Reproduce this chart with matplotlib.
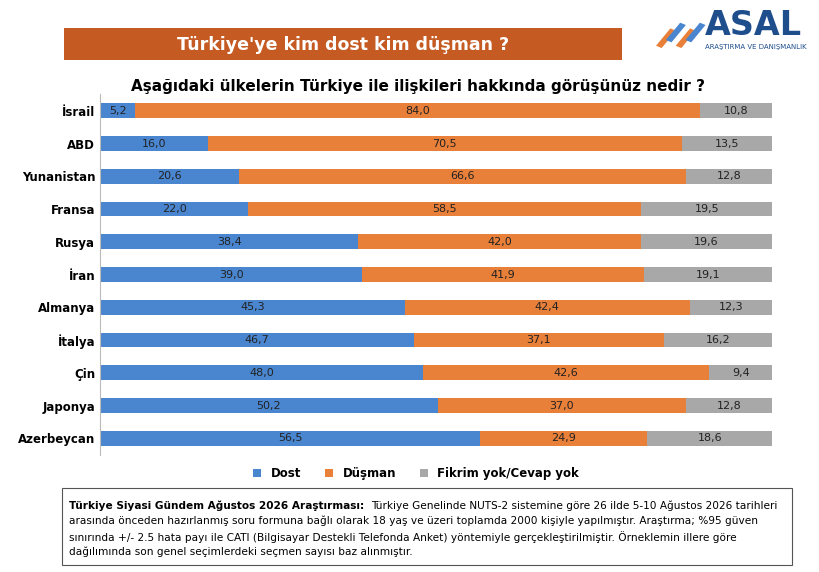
import matplotlib
matplotlib.use("Agg")
import matplotlib.pyplot as plt
from matplotlib.patches import Rectangle

countries = ["İsrail","ABD","Yunanistan","Fransa","Rusya","İran","Almanya","İtalya","Çin","Japonya","Azerbeycan"]
dost = [5.2,16.0,20.6,22.0,38.4,39.0,45.3,46.7,48.0,50.2,56.5]
dusman = [84.0,70.5,66.6,58.5,42.0,41.9,42.4,37.1,42.6,37.0,24.9]
fikrim = [10.8,13.5,12.8,19.5,19.6,19.1,12.3,16.2,9.4,12.8,18.6]
series_names = ["Dost","Düşman","Fikrim yok/Cevap yok"]
colors = ["#4a86d0","#e8803a","#a8a8a8"]

fig = plt.figure(figsize=(8.2,5.72), dpi=100)
fig.patch.set_facecolor("white")

fig.patches.append(Rectangle((0.078,0.895),0.68,0.056,transform=fig.transFigure,facecolor="#c55a22",edgecolor="none"))
fig.text(0.418,0.922,"Türkiye'ye kim dost kim düşman ?",color="white",fontsize=12.5,fontweight="bold",ha="center",va="center")
fig.text(0.86,0.955,"ASAL",color="#1f4e8c",fontsize=24,fontweight="bold",ha="left",va="center")
fig.text(0.86,0.918,"ARAŞTIRMA VE DANIŞMANLIK",color="#1f4e8c",fontsize=5,ha="left",va="center")
for i,c in enumerate(["#e8803a","#4a86d0","#e8803a","#4a86d0"]):
    fig.patches.append(Rectangle((0.80+0.012*i,0.92+0.01*(i%2)),0.008,0.035,transform=fig.transFigure,facecolor=c,edgecolor="none",angle=-30))
fig.text(0.51,0.848,"Aşağıdaki ülkelerin Türkiye ile ilişkileri hakkında görüşünüz nedir ?",fontsize=11,fontweight="bold",ha="center",va="center")

ax = fig.add_axes([0.122,0.205,0.82,0.63])
y = list(range(len(countries)))
left = [0]*len(countries)
for vals,col,name in zip([dost,dusman,fikrim],colors,series_names):
    bars = ax.barh(y,vals,left=left,color=col,height=0.45,label=name)
    for b,v,l in zip(bars,vals,left):
        ax.text(l+v/2,b.get_y()+b.get_height()/2,f"{v:.1f}".replace(".",","),ha="center",va="center",fontsize=8,color="#222")
    left = [a+b for a,b in zip(left,vals)]
ax.set_xlim(0,100)
ax.set_ylim(len(countries)-0.5,-0.5)
ax.set_yticks(y)
ax.set_yticklabels(countries,fontsize=8.5,fontweight="bold")
ax.set_xticks([])
ax.tick_params(axis="y",length=0)
for s in ["top","right","bottom"]:
    ax.spines[s].set_visible(False)
ax.spines["left"].set_color("#bbbbbb")
ax.legend(loc="upper center",bbox_to_anchor=(0.47,-0.005),ncol=3,frameon=False,handlelength=0.7,handleheight=0.7,prop={"weight":"bold","size":8.5})

fig.patches.append(Rectangle((0.076,0.012),0.89,0.135,transform=fig.transFigure,facecolor="white",edgecolor="#555",linewidth=0.8))
fig.text(0.084,0.1155,"Türkiye Siyasi Gündem Ağustos 2026 Araştırması:",fontsize=7.6,fontweight="bold",ha="left",va="center")
fig.text(0.452,0.1155,"Türkiye Genelinde NUTS-2 sistemine göre 26 ilde 5-10 Ağustos 2026 tarihleri",fontsize=7.6,ha="left",va="center")
rest = ("arasında önceden hazırlanmış soru formuna bağlı olarak 18 yaş ve üzeri toplamda 2000 kişiyle yapılmıştır. Araştırma; %95 güven\n"
        "sınırında +/- 2.5 hata payı ile CATI (Bilgisayar Destekli Telefonda Anket) yöntemiyle gerçekleştirilmiştir. Örneklemin illere göre\n"
        "dağılımında son genel seçimlerdeki seçmen sayısı baz alınmıştır.")
fig.text(0.084,0.062,rest,fontsize=7.6,ha="left",va="center",linespacing=1.45)
fig.savefig("out.png",dpi=100)
